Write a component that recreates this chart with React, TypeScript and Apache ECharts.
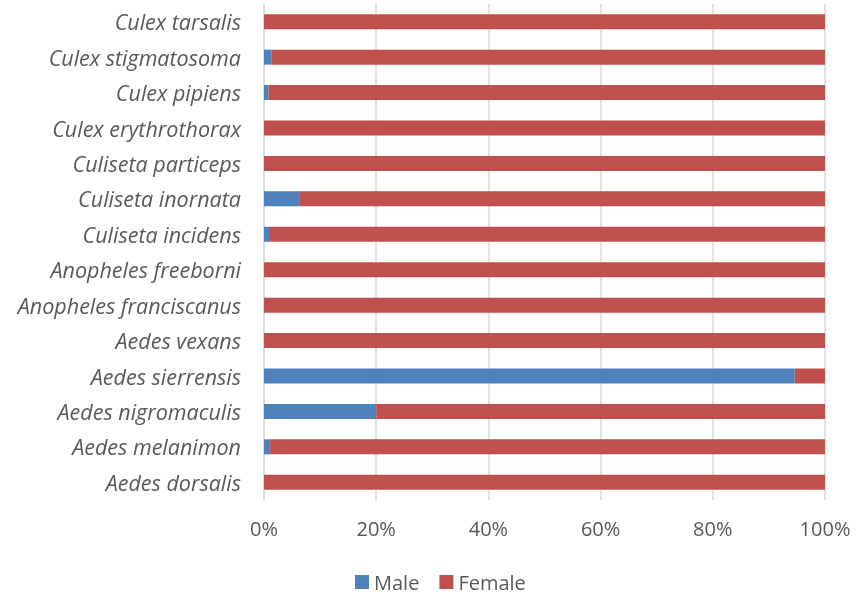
import React, { useEffect, useRef } from "react";
import * as echarts from "echarts";

const categories = [
  "Aedes dorsalis",
  "Aedes melanimon",
  "Aedes nigromaculis",
  "Aedes sierrensis",
  "Aedes vexans",
  "Anopheles franciscanus",
  "Anopheles freeborni",
  "Culiseta incidens",
  "Culiseta inornata",
  "Culiseta particeps",
  "Culex erythrothorax",
  "Culex pipiens",
  "Culex stigmatosoma",
  "Culex tarsalis",
];
const maleValues = [0, 1.1, 20, 94.6, 0, 0, 0, 0.9, 6.4, 0, 0, 0.8, 1.3, 0];
const femaleValues = maleValues.map((m) => +(100 - m).toFixed(1));
const xTicks = [0, 20, 40, 60, 80, 100];

export default function App() {
  const ref = useRef<HTMLDivElement>(null);
  useEffect(() => {
    if (!ref.current) return;
    const chart = echarts.init(ref.current, null, { renderer: "svg" });
    const font = "'Open Sans', Lato, sans-serif";
    chart.setOption({
      animation: false,
      textStyle: { fontFamily: font },
      legend: {
        top: 572,
        left: 355,
        padding: 0,
        itemWidth: 14,
        itemHeight: 14,
        itemGap: 20,
        icon: "rect",
        textStyle: { fontSize: 20, color: "#595959", fontFamily: font },
        data: ["Male", "Female"],
      },
      grid: { left: 264, right: 43, top: 4, bottom: 96 },
      xAxis: {
        type: "value",
        min: xTicks[0],
        max: xTicks[xTicks.length - 1],
        interval: 20,
        axisLine: { show: false },
        axisTick: { show: false },
        splitLine: { show: true, lineStyle: { color: "#D9D9D9", width: 1.5 } },
        axisLabel: {
          formatter: "{value}%",
          fontSize: 20,
          color: "#595959",
          margin: 18,
          fontFamily: font,
        },
      },
      yAxis: {
        type: "category",
        data: categories,
        axisLine: { show: true, lineStyle: { color: "#D9D9D9", width: 1.5 } },
        axisTick: { show: false },
        axisLabel: {
          fontSize: 21.5,
          fontStyle: "italic",
          color: "#595959",
          margin: 23,
          fontFamily: font,
        },
      },
      series: [
        {
          name: "Male",
          type: "bar",
          stack: "total",
          data: maleValues,
          barWidth: 15,
          itemStyle: { color: "#4F81BD" },
        },
        {
          name: "Female",
          type: "bar",
          stack: "total",
          data: femaleValues,
          barWidth: 15,
          itemStyle: { color: "#C0504D" },
        },
      ],
    });
    return () => chart.dispose();
  }, []);
  return (
    <div
      ref={ref}
      style={{ position: "fixed", left: 0, top: 0, width: 868, height: 596 }}
    />
  );
}
